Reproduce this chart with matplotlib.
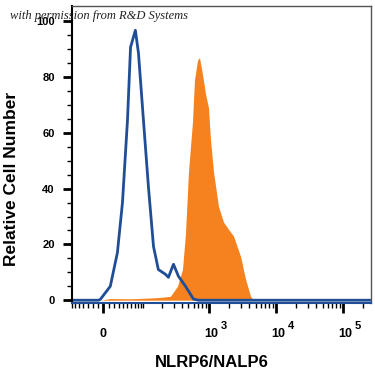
import numpy as np
import matplotlib
matplotlib.use('Agg')
import matplotlib.pyplot as plt
import matplotlib.transforms as mtransforms

# isotype control (blue outline)
ctrl_x = [-70, -9, -5.6, 13, 27, 38, 50, 58, 72, 82, 100, 121, 146, 174, 224,
          249, 297, 353, 451, 594, 706, 262143]
ctrl_y = [0, 0, 0.3, 5, 17, 35, 64.6, 90.7, 96.8, 88.6, 64.6, 40.7, 19.3, 11,
          9.3, 8.2, 12.9, 8.6, 5, 0.4, 0, 0]

# NLRP6 stained (orange filled)
stain_x = [-5.6, 13, 58, 131, 188, 267, 341, 406, 451, 500, 574, 615, 682, 730,
           810, 898, 996, 1067, 1183, 1404, 1668, 1981, 2353, 2993, 3554, 4221, 4680]
stain_y = [0, 0.6, 0.5, 0.8, 1.0, 1.4, 5, 11, 24, 46, 64, 79, 86, 87,
           81, 74, 69, 57.5, 46, 33.6, 28, 25.4, 23, 15.7, 7.5, 1.4, 0]

x_major = [0, 1e3, 1e4, 1e5]
x_labels = ['0', '10', '10', '10']
x_exps = ['', '3', '4', '5']
y_major = [0, 20, 40, 60, 80, 100]

W = 54.0


def fwd(x):
    return np.arcsinh(np.asarray(x) / W) / np.log(10)


def inv(f):
    return W * np.sinh(np.asarray(f) * np.log(10))


fig = plt.figure(figsize=(3.75, 3.75), dpi=100)
ax = fig.add_axes([0.192, 0.192, 0.797, 0.792])

ax.set_xscale('function', functions=(fwd, inv))
ax.fill_between(stain_x, stain_y, 0, color='#f5821f', lw=0)
ax.plot(ctrl_x, ctrl_y, color='#1f4e96', lw=2.0, solid_joinstyle='round')

# x ticks
minor = []
for n in range(1, 6):
    for k in range(1, 10):
        minor.append(k * 10 ** n)
minor += [-10 * k for k in range(1, 8)]
ax.set_xticks(x_major)
ax.set_xticklabels([])
ax.set_xticks(minor, minor=True)
ax.set_yticks(y_major)
ax.set_yticks(np.arange(0, 101, 5), minor=True)

ax.set_xlim(-70, 262143)
ax.set_ylim(-1, 105.5)

for lab in ax.get_yticklabels():
    lab.set_fontweight('bold')
    lab.set_family('Liberation Sans')
ax.tick_params(axis='x', which='major', length=7, width=2)
ax.tick_params(axis='x', which='minor', length=3.5, width=1)
ax.tick_params(axis='y', which='major', length=6.5, width=2, labelsize=8, pad=6)
ax.tick_params(axis='y', which='minor', length=3.5, width=1)

# x tick labels: 0, 10^3, 10^4, 10^5
trans = mtransforms.blended_transform_factory(ax.transData, ax.transAxes)
for xv, base, ex in zip(x_major, x_labels, x_exps):
    if ex:
        off = mtransforms.ScaledTranslation(-3 / 72, 0, fig.dpi_scale_trans)
        ax.text(xv, -0.114, base, transform=trans + off, ha='left',
                va='baseline', fontsize=9, fontweight='bold',
                family='Liberation Sans')
        off2 = mtransforms.ScaledTranslation(8.5 / 72, 6 / 72, fig.dpi_scale_trans)
        ax.text(xv, -0.114, ex, transform=trans + off2, ha='left',
                va='baseline', fontsize=8, fontweight='bold',
                family='Liberation Sans')
    else:
        ax.text(xv, -0.114, base, transform=trans, ha='center',
                va='baseline', fontsize=9, fontweight='bold',
                family='Liberation Sans')

ax.spines['left'].set_linewidth(1.5)
ax.spines['bottom'].set_linewidth(1.5)
ax.spines['bottom'].set_color('#1f4e96')
for s in ['top', 'right']:
    ax.spines[s].set_color('#555555')
    ax.spines[s].set_linewidth(1)

ax.set_xlabel('NLRP6/NALP6', fontsize=12, fontweight='bold',
              family='Liberation Sans')
ax.xaxis.set_label_coords(0.4666, -0.175)
ax.set_ylabel('Relative Cell Number', fontsize=12.5, fontweight='bold',
              family='Liberation Sans')
ax.yaxis.set_label_coords(-0.177, 0.419)

fig.text(0.027, 0.957, 'with permission from R&D Systems', fontsize=9,
         style='italic', family='Liberation Serif', color='#222222', va='center')

fig.savefig('out.png', dpi=100)
